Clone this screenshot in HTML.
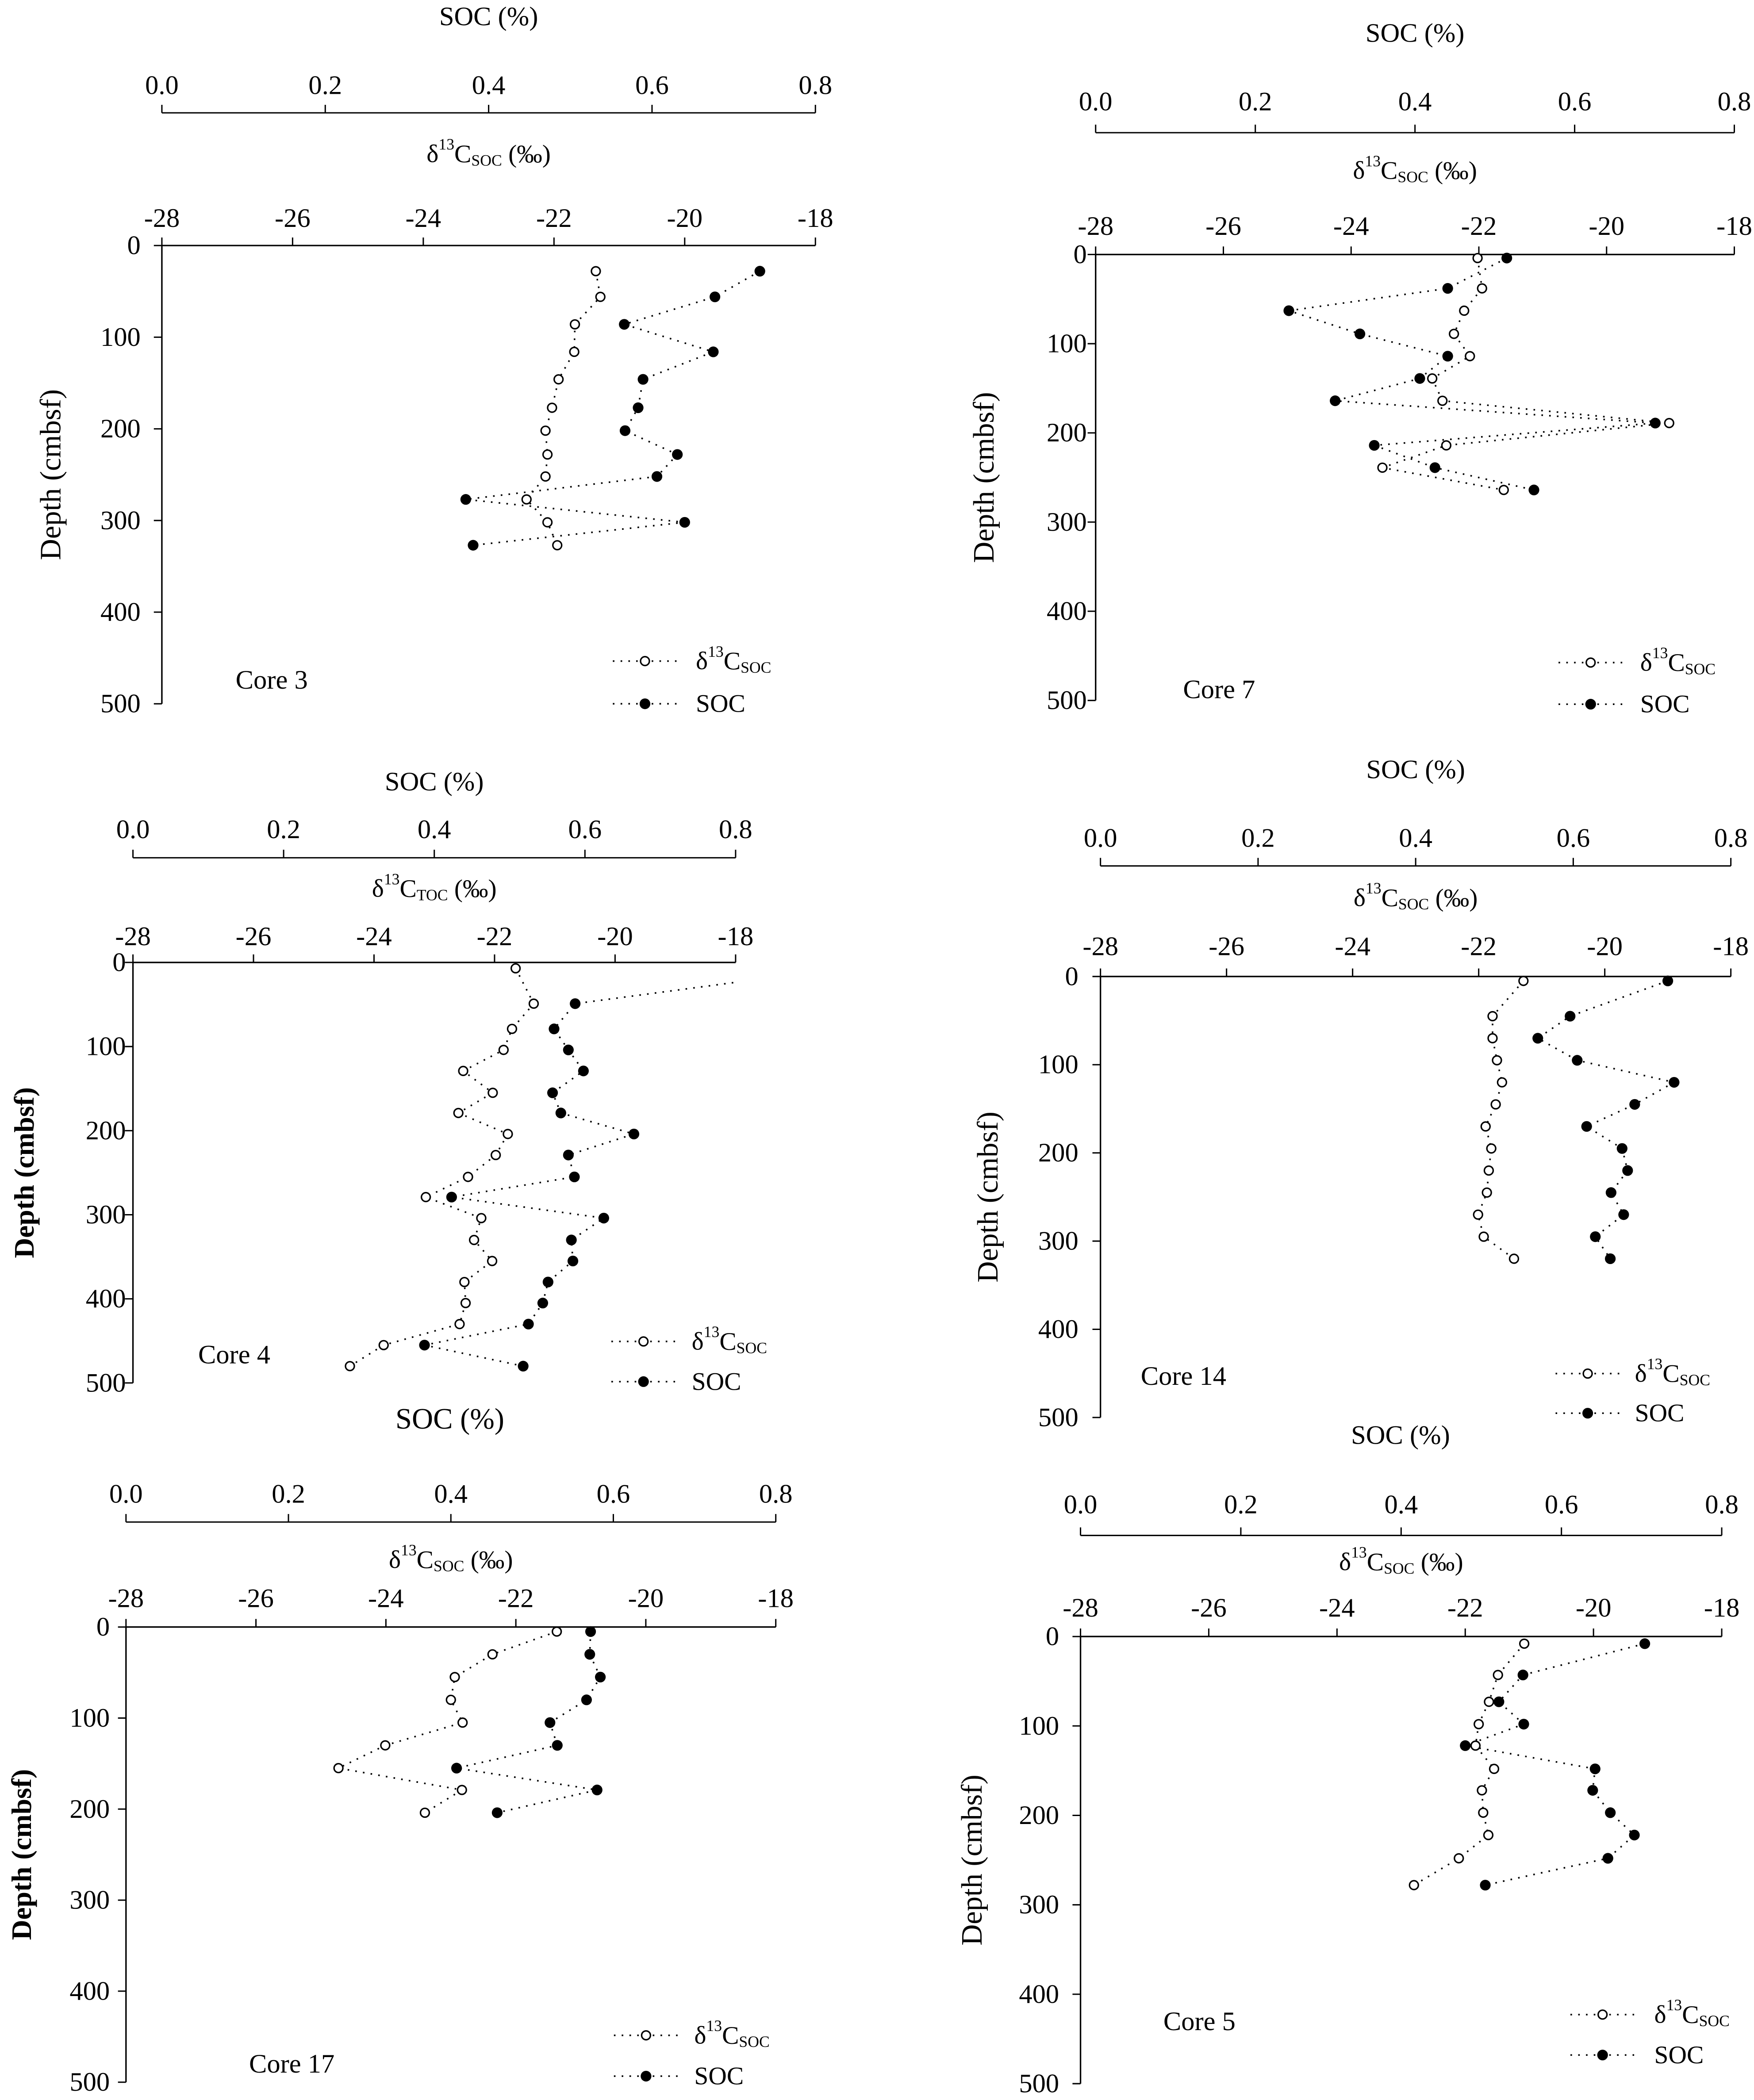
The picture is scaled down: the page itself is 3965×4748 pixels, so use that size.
<!DOCTYPE html>
<html><head><meta charset="utf-8"><title>Depth profiles of δ13C and SOC</title>
<style>
html,body{margin:0;padding:0;background:#fff;}
svg{display:block;}
text{font-family:"Liberation Serif","DejaVu Serif",serif;fill:#000;}
</style></head>
<body>
<svg id="fig" width="3965" height="4748" viewBox="0 0 1310 1568.6" preserveAspectRatio="none" xmlns="http://www.w3.org/2000/svg">
<rect x="0" y="0" width="1310" height="1568.6" fill="#fff"/>
<text x="336" y="1060" font-size="22" text-anchor="middle" dominant-baseline="central">SOC (%)</text>
<text x="1046" y="1072" font-size="20" text-anchor="middle" dominant-baseline="central">SOC (%)</text>
</svg>
<script>
// ---- data: depth (cmbsf), delta13C (permil), SOC (%) ----
const core3Depth = [28,56,86,116,146,177,202,228,252,277,302,327];
const core3D13C = [-21.36,-21.29,-21.68,-21.69,-21.93,-22.03,-22.13,-22.10,-22.13,-22.42,-22.10,-21.95];
const core3SOC = [0.732,0.677,0.566,0.675,0.589,0.583,0.567,0.631,0.606,0.372,0.640,0.381];

const core7Depth = [4,38,63,89,114,139,164,189,214,239,264];
const core7D13C = [-22.02,-21.95,-22.23,-22.39,-22.14,-22.73,-22.57,-19.02,-22.51,-23.51,-21.61];
const core7SOC = [0.515,0.441,0.242,0.331,0.441,0.406,0.300,0.701,0.349,0.425,0.549];

const core4Depth = [7,49,79,104,129,155,179,204,229,255,279,304,330,355,380,405,430,455,480];
const core4D13C = [-21.65,-21.35,-21.71,-21.85,-22.52,-22.03,-22.60,-21.78,-21.98,-22.44,-23.14,-22.22,-22.34,-22.04,-22.50,-22.48,-22.58,-23.84,-24.40];
const core4SOC = [0.94,0.587,0.559,0.578,0.598,0.557,0.568,0.665,0.578,0.586,0.423,0.625,0.582,0.584,0.551,0.544,0.525,0.387,0.518];

const core14Depth = [5,45,70,95,120,145,170,195,220,245,270,295,320];
const core14D13C = [-21.29,-21.78,-21.78,-21.71,-21.63,-21.73,-21.89,-21.80,-21.84,-21.87,-22.01,-21.92,-21.44];
const core14SOC = [0.720,0.596,0.555,0.605,0.728,0.678,0.617,0.662,0.669,0.648,0.664,0.628,0.647];

const core17Depth = [5,30,55,80,105,130,155,179,204];
const core17D13C = [-21.37,-22.36,-22.94,-23.00,-22.82,-24.01,-24.73,-22.83,-23.40];
const core17SOC = [0.572,0.571,0.584,0.567,0.522,0.531,0.407,0.580,0.457];

const core5Depth = [8,43,73,98,122,148,172,197,222,248,278];
const core5D13C = [-21.08,-21.49,-21.63,-21.79,-21.84,-21.55,-21.74,-21.72,-21.64,-22.10,-22.80];
const core5SOC = [0.704,0.552,0.522,0.553,0.480,0.642,0.639,0.661,0.691,0.658,0.505];

const socTicks = ["0.0","0.2","0.4","0.6","0.8"];
const d13Ticks = ["-28","-26","-24","-22","-20","-18"];
const depthTicks = ["0","100","200","300","400","500"];

// ---- layout (display units) ----
const NS = "http://www.w3.org/2000/svg";
const svg = document.getElementById('fig');
function mk(tag, attrs, parent){
  const e = document.createElementNS(NS, tag);
  for (const k in attrs) e.setAttribute(k, attrs[k]);
  (parent||svg).appendChild(e);
  return e;
}
const panels = [
 {id:'core3', name:'Core 3', depth:core3Depth, d13:core3D13C, soc:core3SOC, x0:120.9,x1:609,y0:183.4,y1:525.7, socY:84.3, socLblY:63.7, socTitleY:12.4, dLblY:115, dTickY:163, depLblX:105, yTX:38, bold:false, sub:'SOC', coreX:176, coreY:508, legX:481.7, legY1:493.8, legY2:525.7, legTX:519.7},
 {id:'core7', name:'Core 7', depth:core7Depth, d13:core7D13C, soc:core7SOC, x0:818.3,x1:1295.3,y0:190.1,y1:523.2, socY:99.1, socLblY:76, socTitleY:24.8, dLblY:127.4, dTickY:169, depLblX:811.7, yTX:735, bold:false, sub:'SOC', coreX:883.6, coreY:515, legX:1188, legY1:494.9, legY2:526, legTX:1225},
 {id:'core4', name:'Core 4', depth:core4Depth, d13:core4D13C, soc:core4SOC, x0:99.3,x1:549.4,y0:718.9,y1:1033, socY:640.7, socLblY:619.6, socTitleY:584, dLblY:663.8, dTickY:699.5, depLblX:94, yTX:18, bold:true, sub:'TOC', coreX:148, coreY:1012, legX:480.6, legY1:1002, legY2:1032, legTX:516.6},
 {id:'core14', name:'Core 14', depth:core14Depth, d13:core14D13C, soc:core14SOC, x0:821.9,x1:1292.7,y0:729.4,y1:1058.8, socY:646.8, socLblY:626, socTitleY:574.8, dLblY:670.6, dTickY:707, depLblX:805.4, yTX:738, bold:false, sub:'SOC', coreX:852, coreY:1028, legX:1185.8, legY1:1026, legY2:1055.6, legTX:1221},
 {id:'core17', name:'Core 17', depth:core17Depth, d13:core17D13C, soc:core17SOC, x0:94.1,x1:579.4,y0:1215.3,y1:1555.3, socY:1136.9, socLblY:1116, socTitleY:null, dLblY:1165, dTickY:1193.9, depLblX:82, yTX:16, bold:true, sub:'SOC', coreX:186, coreY:1541.6, legX:482.5, legY1:1520.3, legY2:1550.8, legTX:518.5},
 {id:'core5', name:'Core 5', depth:core5Depth, d13:core5D13C, soc:core5SOC, x0:807,x1:1285.9,y0:1222.4,y1:1556.4, socY:1146.9, socLblY:1124, socTitleY:null, dLblY:1166.7, dTickY:1201, depLblX:791, yTX:726, bold:false, sub:'SOC', coreX:868.9, coreY:1510, legX:1196.9, legY1:1504.8, legY2:1535, legTX:1235.5}
];
const FS = 20;

function deltaLabel(parent, x, y, sub, size, anchor, nm){
  const t = mk('text', {x:x, y:y, 'font-size':size, 'text-anchor':anchor, 'dominant-baseline':'central'}, parent);
  
  
  t.appendChild(document.createTextNode('δ'));
  const s1 = mk('tspan', {'font-size':size*0.62, dy:-size*0.38}, t); s1.textContent='13';
  const c = mk('tspan', {dy:size*0.38}, t); c.textContent='C';
  const s2 = mk('tspan', {'font-size':size*0.62, dy:size*0.25}, t); s2.textContent=sub;
  return {t:t, after:function(txt){ const r = mk('tspan', {dy:-size*0.25}, t); r.textContent=txt; }};
}

panels.forEach(function(p, pi){
  const g = mk('g', {});
  
  
  const xD = v => p.x0 + (v + 28) / 10 * (p.x1 - p.x0);
  const xS = v => p.x0 + v / 0.8 * (p.x1 - p.x0);
  const yD = d => p.y0 + d / 500 * (p.y1 - p.y0);

  // SOC axis
  if (p.socTitleY !== null) {
    const st = mk('text', {x:(p.x0+p.x1)/2, y:p.socTitleY, 'font-size':FS, 'text-anchor':'middle', 'dominant-baseline':'central'}, g);
    
    
    st.textContent = 'SOC (%)';
  }
  const sa = mk('line', {x1:p.x0, x2:p.x1, y1:p.socY, y2:p.socY, stroke:'#000', 'stroke-width':1}, g);
  
  
  socTicks.forEach(function(lbl){
    const v = parseFloat(lbl), x = xS(v);
    const tk = mk('line', {x1:x, x2:x, y1:p.socY, y2:p.socY-6, stroke:'#000', 'stroke-width':1}, g);
    
    
    const tl = mk('text', {x:x, y:p.socLblY, 'font-size':FS, 'text-anchor':'middle', 'dominant-baseline':'central'}, g);
    
    
    tl.textContent = lbl;
  });
  // delta axis
  const dl = deltaLabel(g, (p.x0+p.x1)/2, p.dLblY, p.sub, 19, 'middle', 'delta13c-axis-title');
  dl.after(' (‰)');
  const da = mk('line', {x1:p.x0, x2:p.x1, y1:p.y0, y2:p.y0, stroke:'#000', 'stroke-width':1.1}, g);
  
  
  d13Ticks.forEach(function(lbl){
    const x = xD(parseFloat(lbl));
    const tk = mk('line', {x1:x, x2:x, y1:p.y0, y2:p.y0-6, stroke:'#000', 'stroke-width':1}, g);
    
    
    const tl = mk('text', {x:x, y:p.dTickY, 'font-size':FS, 'text-anchor':'middle', 'dominant-baseline':'central'}, g);
    
    
    tl.textContent = lbl;
  });
  // depth axis
  const ya = mk('line', {x1:p.x0, x2:p.x0, y1:p.y0, y2:p.y1, stroke:'#000', 'stroke-width':1.1}, g);
  
  
  depthTicks.forEach(function(lbl){
    const y = yD(parseFloat(lbl));
    const tk = mk('line', {x1:p.x0-6, x2:p.x0, y1:y, y2:y, stroke:'#000', 'stroke-width':1}, g);
    
    
    const tl = mk('text', {x:p.depLblX, y:y, 'font-size':FS, 'text-anchor':'end', 'dominant-baseline':'central'}, g);
    
    
    tl.textContent = lbl;
  });
  const ymid = (p.y0+p.y1)/2;
  const yt = mk('text', {x:p.yTX, y:ymid, 'font-size':p.bold?21:22, 'font-weight':p.bold?'bold':'normal', 'text-anchor':'middle', 'dominant-baseline':'central', transform:'rotate(-90 '+p.yTX+' '+ymid+')'}, g);
  
  
  yt.textContent = 'Depth (cmbsf)';

  // clip
  const cp = mk('clipPath', {id:'clip'+pi}, g);
  mk('rect', {x:p.x0-8, y:p.y0-8, width:p.x1-p.x0+8, height:p.y1-p.y0+16}, cp);
  const dg = mk('g', {'clip-path':'url(#clip'+pi+')'}, g);

  // series lines
  const ptsD = p.depth.map((d,i) => xD(p.d13[i]).toFixed(2)+','+yD(d).toFixed(2)).join(' ');
  const ptsS = p.depth.map((d,i) => xS(p.soc[i]).toFixed(2)+','+yD(d).toFixed(2)).join(' ');
  const lD = mk('polyline', {points:ptsD, fill:'none', stroke:'#000', 'stroke-width':1.2, 'stroke-dasharray':'1.2 4.6'}, dg);
  
  
  const lS = mk('polyline', {points:ptsS, fill:'none', stroke:'#000', 'stroke-width':1.2, 'stroke-dasharray':'1.2 4.6'}, dg);
  
  
  p.depth.forEach(function(d,i){
    const c = mk('circle', {cx:xD(p.d13[i]), cy:yD(d), r:3.3, fill:'#fff', stroke:'#000', 'stroke-width':1.1}, dg);
    
    
  });
  p.depth.forEach(function(d,i){
    const c = mk('circle', {cx:xS(p.soc[i]), cy:yD(d), r:4, fill:'#000'}, dg);
    
    
  });

  // core label
  const cl = mk('text', {x:p.coreX, y:p.coreY, 'font-size':FS, 'dominant-baseline':'central'}, g);
  
  
  cl.textContent = p.name;

  // legend
  const lg = mk('g', {}, g);
  
  
  [p.legY1, p.legY2].forEach(function(y, k){
    const ln = mk('line', {x1:p.legX-24, x2:p.legX+24, y1:y, y2:y, stroke:'#000', 'stroke-width':1.2, 'stroke-dasharray':'1.2 4.6'}, lg);
    
    
    const c = k===0 ? mk('circle', {cx:p.legX, cy:y, r:3.3, fill:'#fff', stroke:'#000', 'stroke-width':1.1}, lg)
                    : mk('circle', {cx:p.legX, cy:y, r:4, fill:'#000'}, lg);
    
    
  });
  deltaLabel(lg, p.legTX, p.legY1, 'SOC', 19, 'start', 'legend-delta13c-label');
  const st2 = mk('text', {x:p.legTX, y:p.legY2, 'font-size':19, 'dominant-baseline':'central'}, lg);
  
  
  st2.textContent = 'SOC';
});
</script>
</body></html>
